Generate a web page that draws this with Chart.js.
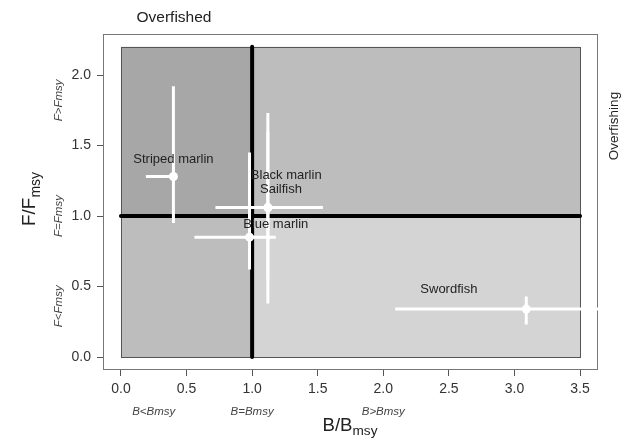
<!DOCTYPE html>
<html>
<head>
<meta charset="utf-8">
<script src="https://cdn.jsdelivr.net/npm/chart.js@4"></script>
<style>
  html, body { margin: 0; padding: 0; background: #fff; }
  #wrap { width: 626px; height: 442px; }
</style>
</head>
<body>
<div id="wrap"><canvas id="kobe" width="626" height="442"></canvas></div>
<script>
// stock status: B/Bmsy and F/Fmsy with their ranges
const species = ['Striped marlin', 'Black marlin', 'Sailfish', 'Blue marlin', 'Swordfish'];
const bRatio = [0.40, 1.12, 1.12, 0.98, 3.09];
const fRatio = [1.28, 1.06, 1.06, 0.85, 0.34];
const bLow  = [0.19, 0.72, 0.87, 0.56, 2.09];
const bHigh = [0.42, 1.54, 1.36, 1.18, 4.10];
const fLow  = [0.95, 0.38, 0.55, 0.62, 0.23];
const fHigh = [1.92, 1.73, 1.60, 1.45, 0.43];

// where each species name sits (data units)
const labelX = [0.40, 1.26, 1.22, 1.18, 2.50];
const labelY = [1.40, 1.29, 1.19, 0.94, 0.48];

const xTicks = [0, 0.5, 1, 1.5, 2, 2.5, 3, 3.5];
const yTicks = [0, 0.5, 1, 1.5, 2];
const xNotes = ['B<Bmsy', 'B=Bmsy', 'B>Bmsy'];
const xNoteAt = [0.25, 1, 2];
const yNotes = ['F<Fmsy', 'F=Fmsy', 'F>Fmsy'];
const yNoteAt = [0.36, 1, 1.82];

const FONT = "'Liberation Sans', Arial, Helvetica, sans-serif";

const kobePlot = {
  id: 'kobePlot',
  beforeDatasetsDraw(chart) {
    const { ctx, chartArea: a, scales: { x, y } } = chart;
    const px0 = x.getPixelForValue(0), px1 = x.getPixelForValue(1), px2 = x.getPixelForValue(3.5);
    const py0 = y.getPixelForValue(0), py1 = y.getPixelForValue(1), py2 = y.getPixelForValue(2.2);
    ctx.save();

    // box around the plot
    ctx.strokeStyle = '#777';
    ctx.lineWidth = 1;
    ctx.strokeRect(a.left + 0.5, a.top + 0.5, a.width - 1, a.height - 1);

    // status quadrants
    ctx.fillStyle = '#a7a7a7'; ctx.fillRect(px0, py2, px1 - px0, py1 - py2);
    ctx.fillStyle = '#bdbdbd'; ctx.fillRect(px1, py2, px2 - px1, py1 - py2);
    ctx.fillStyle = '#bdbdbd'; ctx.fillRect(px0, py1, px1 - px0, py0 - py1);
    ctx.fillStyle = '#d4d4d4'; ctx.fillRect(px1, py1, px2 - px1, py0 - py1);
    ctx.strokeStyle = '#555';
    ctx.strokeRect(Math.round(px0) + 0.5, Math.round(py2) + 0.5, Math.round(px2 - px0), Math.round(py0 - py2));

    // reference lines at 1
    ctx.strokeStyle = '#000';
    ctx.lineWidth = 4;
    ctx.lineCap = 'round';
    ctx.beginPath();
    ctx.moveTo(px1, py0); ctx.lineTo(px1, py2);
    ctx.moveTo(px0, py1); ctx.lineTo(px2, py1);
    ctx.stroke();

    // error bars
    ctx.beginPath();
    ctx.rect(a.left, a.top, a.width, a.height);
    ctx.clip();
    ctx.strokeStyle = '#fff';
    ctx.lineWidth = 3;
    ctx.lineCap = 'butt';
    species.forEach((s, i) => {
      const cx = x.getPixelForValue(bRatio[i]);
      const cy = y.getPixelForValue(fRatio[i]);
      ctx.beginPath();
      ctx.moveTo(x.getPixelForValue(bLow[i]), cy);
      ctx.lineTo(x.getPixelForValue(bHigh[i]), cy);
      ctx.moveTo(cx, y.getPixelForValue(fLow[i]));
      ctx.lineTo(cx, y.getPixelForValue(fHigh[i]));
      ctx.stroke();
    });
    ctx.restore();
  },
  afterDraw(chart) {
    const { ctx, scales: { x, y } } = chart;
    ctx.save();
    ctx.fillStyle = '#222';
    ctx.textAlign = 'center';
    ctx.textBaseline = 'middle';

    // species names
    ctx.font = '13px ' + FONT;
    species.forEach((s, i) => {
      ctx.fillText(s, x.getPixelForValue(labelX[i]), y.getPixelForValue(labelY[i]));
    });

    ctx.font = '15.5px ' + FONT;
    ctx.fillText('Overfished', 174, 18);

    ctx.save();
    ctx.translate(614, 126);
    ctx.rotate(-Math.PI / 2);
    ctx.font = '13.5px ' + FONT;
    ctx.fillText('Overfishing', 0, 0);
    ctx.restore();

    // small italic notes under the x axis and beside the y axis
    ctx.fillStyle = '#444';
    ctx.font = 'italic 11.5px ' + FONT;
    xNotes.forEach((t, i) => ctx.fillText(t, x.getPixelForValue(xNoteAt[i]), 412));
    yNotes.forEach((t, i) => {
      ctx.save();
      ctx.translate(59, y.getPixelForValue(yNoteAt[i]));
      ctx.rotate(-Math.PI / 2);
      ctx.fillText(t, 0, 0);
      ctx.restore();
    });

    // axis titles with subscripts
    ctx.fillStyle = '#222';
    ctx.textAlign = 'left';
    ctx.textBaseline = 'alphabetic';
    const drawTitle = (main, sub, big, small, drop) => {
      ctx.font = big + 'px ' + FONT;
      const w1 = ctx.measureText(main).width;
      ctx.font = small + 'px ' + FONT;
      const w2 = ctx.measureText(sub).width;
      const start = -(w1 + w2) / 2;
      ctx.font = big + 'px ' + FONT;
      ctx.fillText(main, start, 0);
      ctx.font = small + 'px ' + FONT;
      ctx.fillText(sub, start + w1, drop);
    };
    ctx.save();
    ctx.translate(350, 431);
    drawTitle('B/B', 'msy', 18.6, 13.6, 4);
    ctx.restore();

    ctx.save();
    ctx.translate(35, 199);
    ctx.rotate(-Math.PI / 2);
    drawTitle('F/F', 'msy', 19, 14, 5);
    ctx.restore();

    ctx.restore();
  }
};

const points = species.map((s, i) => ({ x: bRatio[i], y: fRatio[i] }));

new Chart(document.getElementById('kobe'), {
  type: 'scatter',
  data: {
    datasets: [{
      label: 'Stocks',
      data: points,
      pointRadius: 4.5,
      pointHoverRadius: 4.5,
      backgroundColor: '#fff',
      borderWidth: 0
    }]
  },
  options: {
    responsive: false,
    animation: false,
    events: [],
    layout: { padding: { top: 34, right: 28, left: 0, bottom: 0 } },
    plugins: { legend: { display: false }, tooltip: { enabled: false } },
    scales: {
      x: {
        type: 'linear',
        min: -0.137,
        max: 3.637,
        afterBuildTicks: s => { s.ticks = xTicks.map(v => ({ value: v })); },
        afterFit: s => { s.height = 72; },
        border: { display: false },
        grid: { drawOnChartArea: false, drawTicks: true, tickLength: 6, color: '#555' },
        ticks: {
          autoSkip: false, maxRotation: 0, padding: 5, color: '#333',
          font: { size: 14, family: FONT },
          callback: v => v.toFixed(1)
        }
      },
      y: {
        type: 'linear',
        min: -0.092,
        max: 2.291,
        afterBuildTicks: s => { s.ticks = yTicks.map(v => ({ value: v })); },
        afterFit: s => { s.width = 103; },
        border: { display: false },
        grid: { drawOnChartArea: false, drawTicks: true, tickLength: 6, color: '#555' },
        ticks: {
          autoSkip: false, padding: 6, color: '#333',
          font: { size: 14, family: FONT },
          callback: v => v.toFixed(1)
        }
      }
    }
  },
  plugins: [kobePlot]
});
</script>
</body>
</html>
